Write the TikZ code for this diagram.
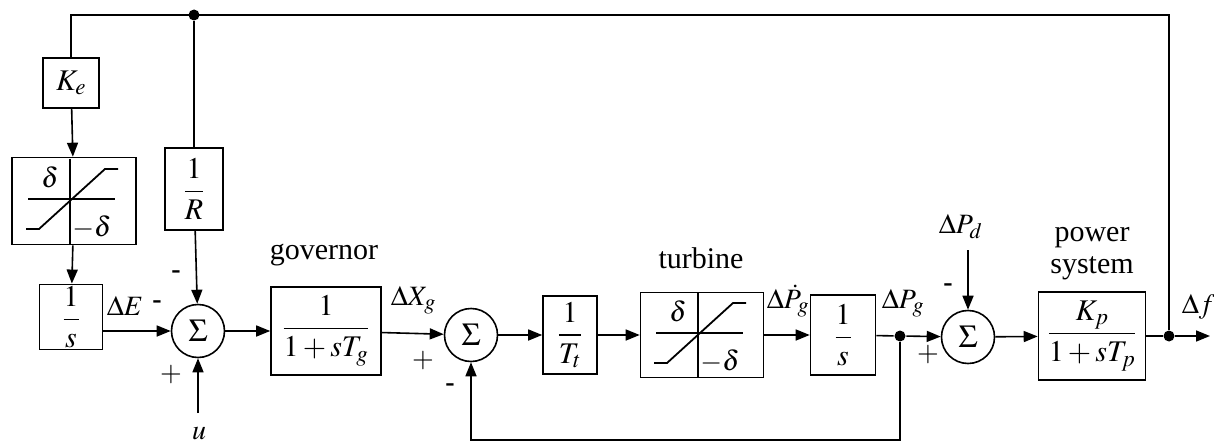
\documentclass[tikz,border=0pt]{standalone}
\usepackage{mathptmx}
\usepackage{fontspec}
\setmainfont{Liberation Serif}
\usetikzlibrary{arrows.meta}
\DeclareMathSizes{28}{28}{22}{16}
\DeclareMathSizes{30}{30}{23}{17}
\tikzset{
  blk/.style={draw, line width=1.6pt, inner sep=2pt, font=\fontsize{30}{32}\selectfont},
  sumc/.style={draw, circle, line width=1.6pt, minimum size=53pt, inner sep=0pt, font=\fontsize{32}{34}\selectfont},
  lbl/.style={font=\fontsize{28}{30}\selectfont, inner sep=0pt},
  sgn/.style={font=\fontsize{28}{30}\bfseries\selectfont, inner sep=0pt},
  word/.style={font=\fontsize{30}{32}\selectfont},
  jdot/.style={circle, fill, inner sep=0pt, minimum size=11pt}
}
\newcommand{\satlines}{%
  \draw[line width=1.4pt] (-4,-42.5) -- (-4,42.5);
  \draw[line width=1.6pt] (-46,-2) -- (41,-2);
  \draw[line width=1.8pt] (-48,28) -- (-35,28) -- (31,-32) -- (44,-32);
  \node[lbl] at (-24,-24) {$\delta$};
  \node[lbl] at (18,26) {$-\delta$};
}
\begin{document}
\begin{tikzpicture}[x=1pt, y=-1pt, line width=1.6pt, >={Triangle[length=14pt,width=11pt]}]
\useasboundingbox (0,0) rectangle (1214,444);
\node[blk, minimum width=56pt, minimum height=50pt] (ke) at (71,83) {$K_e$};
\node[blk, minimum width=124pt, minimum height=87pt] (sat1) at (74,201) {};
\begin{scope}[shift={(sat1.center)}]
\satlines
\end{scope}
\node[blk, minimum width=63pt, minimum height=50pt] (int1) at (71,317) {$\displaystyle\frac{1}{s}$};
\node[blk, minimum width=58pt, minimum height=82pt] (rr) at (194,189) {$\displaystyle\frac{1}{R}$};
\node[sumc] (sum1) at (198,331) {$\Sigma$};
\node[blk, minimum width=110pt, minimum height=88pt] (gov) at (326,331) {$\displaystyle\frac{1}{1+sT_g}$};
\node[sumc] (sum2) at (471,335) {$\Sigma$};
\node[blk, minimum width=54pt, minimum height=78pt] (tt) at (570,335) {$\displaystyle\frac{1}{T_t}$};
\node[blk, minimum width=123pt, minimum height=85pt] (turb) at (702,335) {};
\begin{scope}[shift={(turb.center)}]
\satlines
\end{scope}
\node[blk, minimum width=65pt, minimum height=80pt] (int2) at (843,335) {$\displaystyle\frac{1}{s}$};
\node[sumc] (sum3) at (968,337) {$\Sigma$};
\node[blk, minimum width=107pt, minimum height=88pt] (ps) at (1092,336) {$\displaystyle\frac{K_p}{1+sT_p}$};
\node[jdot] (pgdot) at (900,336) {};
\node[jdot] (outdot) at (1169,336) {};
\node[jdot] (topdot) at (194,15) {};
\coordinate (ktop) at (71,15);
\coordinate (fbr) at (900,440);
\coordinate (fend) at (1210,336);
\coordinate (uin) at (198,413);
\coordinate (pdin) at (968,250);
\node[lbl, anchor=base] (u) at (199,439) {$u$};
\node[lbl, anchor=base west] (pd) at (938,233) {$\Delta P_d$};
\draw (outdot) |- (ktop) -- (ke.north);
\draw (topdot) -- (rr.north);
\draw[->] (ke) -- (sat1);
\draw[->] (sat1) -- (int1);
\draw[->] (rr) -- (sum1);
\draw[->] (int1.east |- sum1) -- (sum1);
\draw[->] (uin) -- (sum1);
\draw[->] (sum1) -- (gov);
\draw[->] (gov) -- (sum2);
\draw[->] (sum2) -- (tt);
\draw[->] (tt) -- (turb);
\draw[->] (turb) -- (int2);
\draw (int2) -- (pgdot);
\draw[->] (pgdot) -- (sum3);
\draw[->] (pgdot) -- (fbr) -| (sum2);
\draw[->] (pdin) -- (sum3);
\draw[->] (sum3) -- (ps);
\draw (ps) -- (outdot);
\draw[->] (outdot) -- (fend);
\node[word] (govl) at (324,255) {governor};
\node[word] (turbl) at (701,258) {turbine};
\node[word, align=center] (psl) at (1092,254) {power\\system};
\node[lbl, anchor=base west] (del) at (106,315) {$\Delta E$};
\node[sgn] (m1) at (157,305) {-};
\node[sgn] (m2) at (176,275) {-};
\node[lbl] (p1) at (171,375) {$+$};
\node[lbl, anchor=base west] (dxg) at (390,305) {$\Delta X_g$};
\node[lbl] (p2) at (423,361) {$+$};
\node[sgn] (m3) at (450,388) {-};
\node[lbl, anchor=base west] (dpgd) at (766,308) {$\Delta\dot{P}_g$};
\node[lbl, anchor=base west] (dpg) at (881,308) {$\Delta P_g$};
\node[lbl] (p3) at (928,355) {$+$};
\node[sgn] (m4) at (948,288) {-};
\node[lbl, anchor=base west] (df) at (1181,313) {$\Delta f$};
\end{tikzpicture}
\end{document}
